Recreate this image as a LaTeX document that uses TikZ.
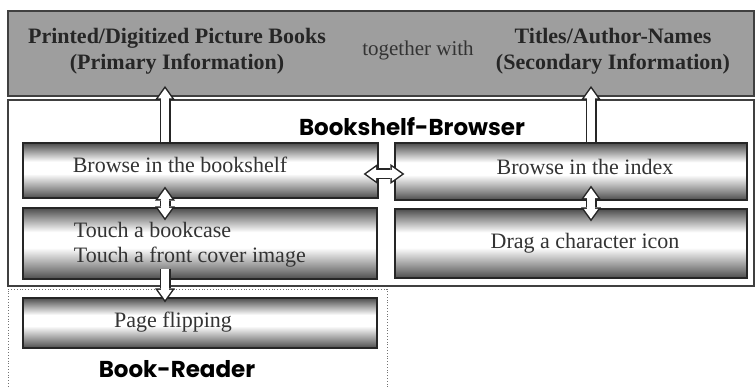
\documentclass[tikz,border=0pt]{standalone}
\usepackage{fontspec}
\setmainfont{Liberation Serif}
\newfontfamily\gothic{Poppins}
\usetikzlibrary{arrows.meta,calc}

% tube-like grey/white/grey shading of the step boxes
\pgfdeclareverticalshading{tube}{100bp}{color(0bp)=(black!70); color(25bp)=(black!70); color(31bp)=(black!50); color(47bp)=(white); color(58bp)=(white); color(69bp)=(black!45); color(75bp)=(black!70); color(100bp)=(black!70)}

\tikzset{
  panel/.style={draw=black!85, line width=1.2pt, shading=tube, inner sep=0pt},
  lbl/.style={inner sep=0.75pt, font=\fontsize{22}{25}\selectfont, text=black!80},
  head/.style={inner sep=0.75pt, font=\bfseries\fontsize{22}{26}\selectfont, text=black!85, align=center},
  title/.style={inner sep=0.75pt, font=\gothic\bfseries\fontsize{23}{26}\selectfont},
  hollow/.style={draw=black!85, line width=11pt, -{Triangle[length=14pt,width=20pt,line width=0pt]},
    postaction={draw=white, line width=8pt, shorten >=2.58pt, -{Triangle[length=9.92pt,width=14.17pt,line width=0pt]}}},
  hollow both/.style={draw=black!85, line width=11pt, {Triangle[length=14pt,width=20pt,line width=0pt]}-{Triangle[length=14pt,width=20pt,line width=0pt]},
    postaction={draw=white, line width=8pt, shorten <=2.58pt, shorten >=2.58pt, {Triangle[length=9.92pt,width=14.17pt,line width=0pt]}-{Triangle[length=9.92pt,width=14.17pt,line width=0pt]}}},
}

\begin{document}
\begin{tikzpicture}[x=1pt,y=1pt,yscale=-1]
        \useasboundingbox (0,0) rectangle (756,387);

        % Information sources
        \node [draw=black!75, line width=1.5pt, fill=black!38, minimum width=746pt, minimum height=85pt, inner sep=0pt] (source) at (381,53.5) {};
        \node [head] (books) at (177,51) {Printed/Digitized Picture Books\\(Primary Information)};
        \node [lbl, font=\fontsize{21}{25}\selectfont] (together) at (418,50) {together with};
        \node [head] (titles) at (613,51) {Titles/Author-Names\\(Secondary Information)};

        % Bookshelf-Browser
        \node [draw=black!75, line width=1.5pt, fill=white, minimum width=746pt, minimum height=186pt, inner sep=0pt] (browser) at (381,193) {};
        \node [title] (browsertitle) at (412,127) {Bookshelf-Browser};
        \node [panel, minimum width=355pt, minimum height=55pt] (shelf) at (200.5,170.5) {};
        \node [panel, minimum width=352pt, minimum height=57pt] (index) at (571,171.5) {};
        \node [panel, minimum width=354pt, minimum height=71pt] (touch) at (200,243.5) {};
        \node [panel, minimum width=352pt, minimum height=69pt] (drag) at (571,243.5) {};

        % Book-Reader
        \node [draw=black!55, dotted, line width=0.8pt, minimum width=379pt, minimum height=100pt, inner sep=0pt] (reader) at (197.5,339) {};
        \node [panel, minimum width=354pt, minimum height=50pt] (flip) at (200,323) {};
        \node [title] (readertitle) at (177,369) {Book-Reader};

        % Text Node
        \node [lbl] (shelftext) at (180,165) {Browse in the bookshelf};
        \node [lbl] (indextext) at (585,167) {Browse in the index};
        \node [lbl, align=left, anchor=west] (touchtext) at (73,245) {Touch a bookcase\\Touch a front cover image};
        \node [lbl] (dragtext) at (585,243) {Drag a character icon};
        \node [lbl] (fliptext) at (173,322) {Page flipping};

        % block arrows
        \coordinate (lup) at (165,86);
        \coordinate (rup) at (591,86);
        \draw [hollow] (shelf.north -| lup) -- (lup);
        \draw [hollow] (index.north -| rup) -- (rup);
        \draw [hollow both] ($(shelf.east)+(-15,3.5)$) -- ($(index.west)+(10,2.5)$);
        \draw [hollow both] ($(shelf.south -| lup)+(0,-12)$) -- ($(touch.north -| lup)+(0,13)$);
        \draw [hollow both] ($(index.south -| rup)+(0,-15)$) -- ($(drag.north -| rup)+(0,13)$);
        \draw [hollow] ($(touch.south -| lup)+(0,-11)$) -- ($(flip.north -| lup)+(0,5)$);

\end{tikzpicture}
\end{document}
